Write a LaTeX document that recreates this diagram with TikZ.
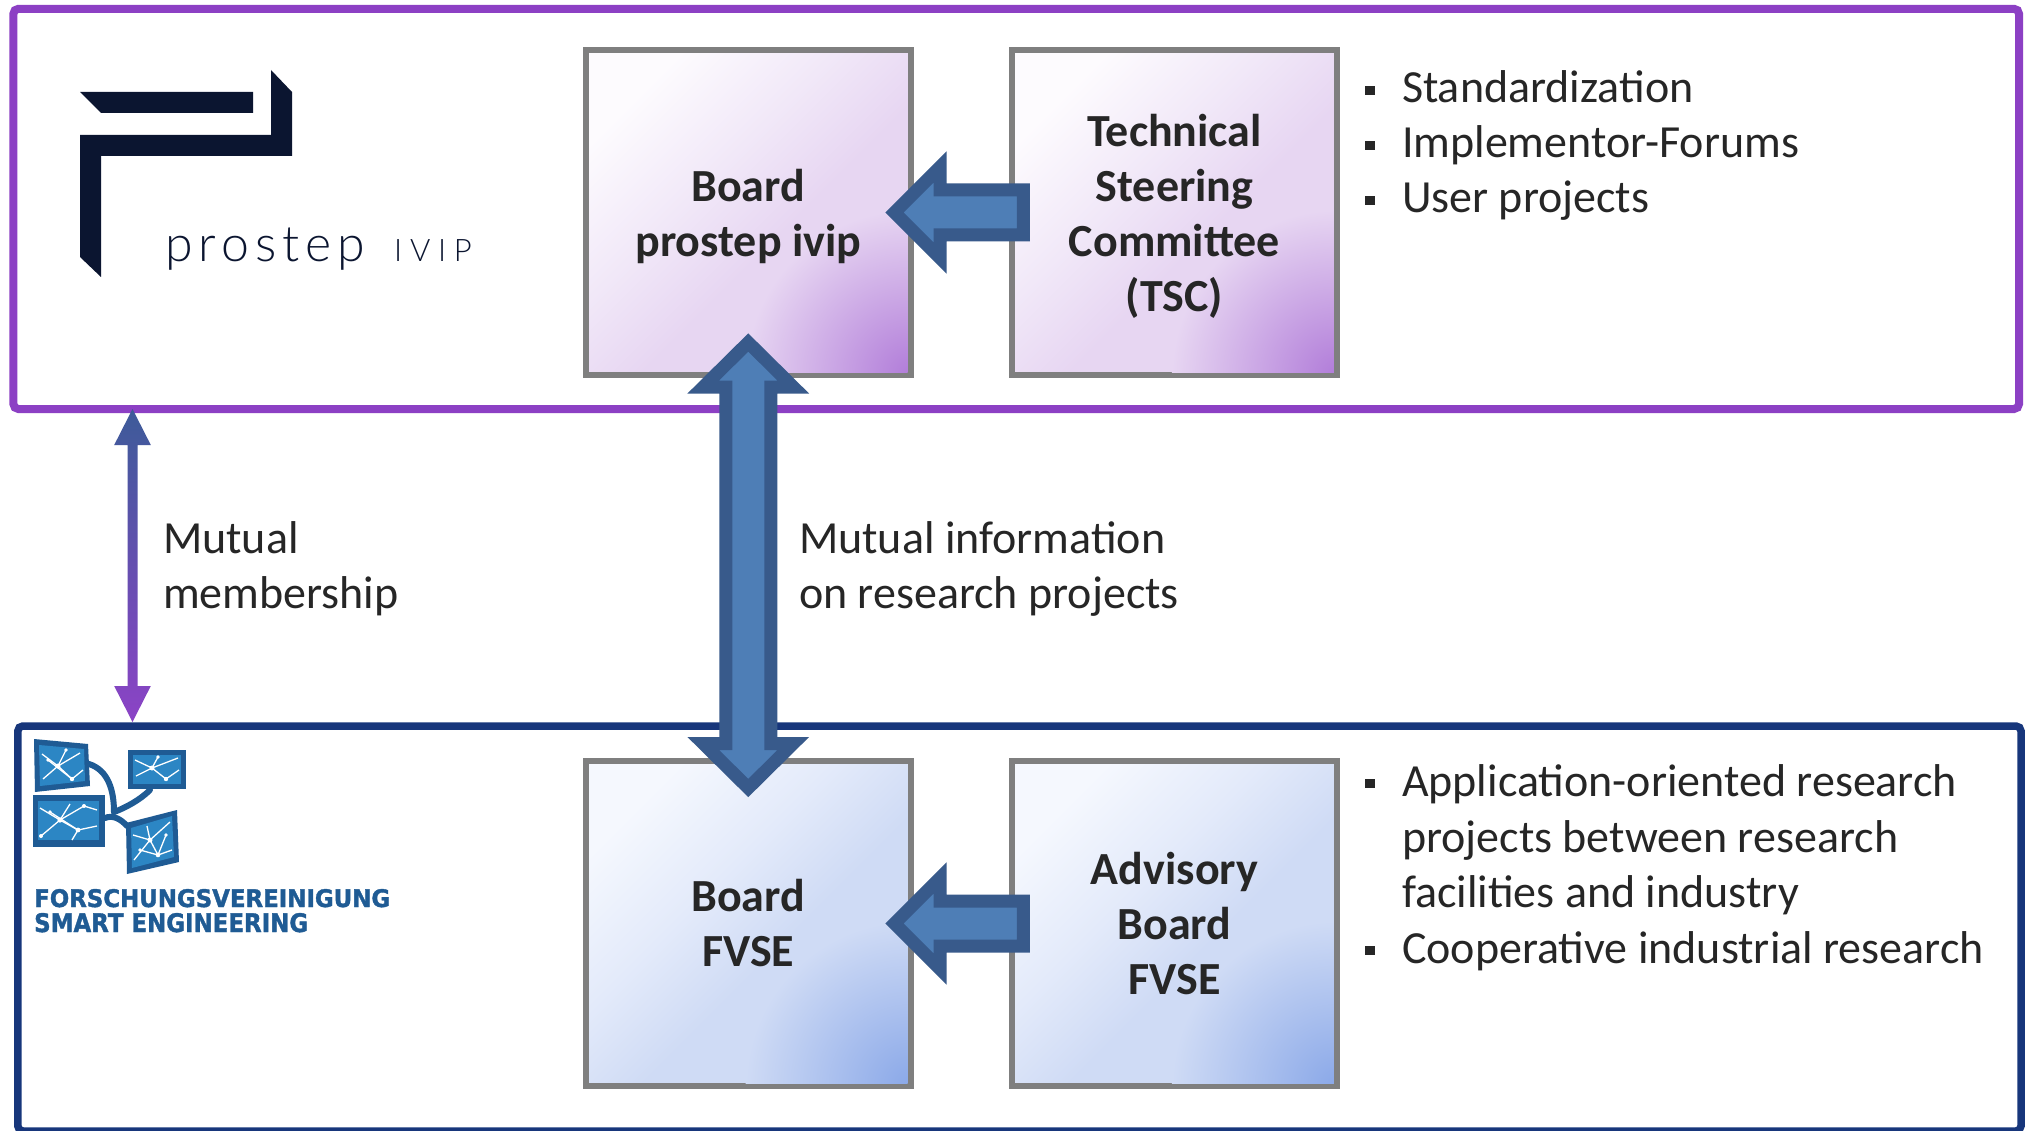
\documentclass[tikz,border=0pt]{standalone}
\usepackage{fontspec}
\setmainfont{Carlito}
\newfontfamily\logofont{Lato Light}
\newfontfamily\fvsefont[FakeBold=1.5]{DejaVu Sans}
\usetikzlibrary{calc}

\definecolor{framepurple}{HTML}{8C40C4}
\definecolor{framenavy}{HTML}{17367B}
\definecolor{boxgray}{HTML}{7F7F7F}
\definecolor{arrowfill}{HTML}{4E7EB6}
\definecolor{arrowline}{HTML}{385A8B}
\definecolor{txt}{HTML}{262626}
\definecolor{logonavy}{HTML}{0B1530}
\definecolor{fvsedark}{HTML}{1F5B94}
\definecolor{fvsemid}{HTML}{2C86C4}
\definecolor{mmtopc}{HTML}{3D5B99}
\definecolor{mmbotc}{HTML}{8C43C6}

\definecolor{pp0}{HTML}{FDFBFE}
\definecolor{pp1}{HTML}{F1E8F8}
\definecolor{ppL}{HTML}{E7D6F2}
\definecolor{ppC}{HTML}{B17CD9}
\definecolor{bb0}{HTML}{F5F8FE}
\definecolor{bb1}{HTML}{E3EAFA}
\definecolor{bbL}{HTML}{CFDBF5}
\definecolor{bbC}{HTML}{8AA8E8}

\pgfdeclarehorizontalshading{purpleshade}{100bp}{color(0bp)=(pp0); color(25bp)=(pp0); color(42bp)=(pp1); color(56bp)=(ppL); color(100bp)=(ppL)}
\pgfdeclarehorizontalshading{blueshade}{100bp}{color(0bp)=(bb0); color(25bp)=(bb0); color(42bp)=(bb1); color(56bp)=(bbL); color(100bp)=(bbL)}

\newcommand{\sqb}{\makebox[37pt][l]{\rule[8pt]{10pt}{9pt}}}
\newcommand{\nodepth}[1]{\raisebox{0pt}[\height][0pt]{#1}}

\tikzset{
  orgbox/.style={draw=boxgray, line width=6pt, minimum width=324.5pt, minimum height=325pt,
    inner sep=0pt, outer sep=0pt},
  ppbox/.style={orgbox, shade, shading=purpleshade, shading angle=-45},
  blbox/.style={orgbox, shade, shading=blueshade, shading angle=-45},
  boxtext/.style={inner sep=0pt, outer sep=0pt, font=\bfseries\fontsize{46}{55}\selectfont, text=txt, align=center},
  barrow/.style={fill=arrowfill, draw=arrowline, line width=13pt, line join=miter},
  bodytext/.style={anchor=base west, inner sep=0pt, outer sep=0pt, text=txt, font=\fontsize{46}{55}\selectfont},
  panelframe/.style={fill=fvsedark, draw=none},
  panelin/.style={fill=fvsemid, draw=none},
  net/.style={draw=white, line width=1.3pt},
  netdot/.style={fill=white, draw=none},
  fvselink/.style={draw=fvsedark, line width=6pt, line cap=round},
}

\begin{document}
\begin{tikzpicture}[x=1pt,y=-1pt]
\useasboundingbox (0,0) rectangle (2033,1131);
\fill[white] (0,0) rectangle (2033,1131);

% frames
\node[draw=framepurple, line width=8pt, rounded corners=5pt, minimum width=2005.6pt, minimum height=400.2pt, inner sep=0pt, outer sep=0pt] (topframe) at (1016.2,208.9) {};
\node[draw=framenavy, line width=7.5pt, rounded corners=5pt, minimum width=2003.2pt, minimum height=405pt, inner sep=0pt, outer sep=0pt] (botframe) at (1019.4,928.5) {};

% prostep logo
\fill[logonavy] (80,92) -- (253,92) -- (253,113) -- (101,113) -- cycle;
\fill[logonavy] (271,70) -- (292,92) -- (292,156) -- (101,156) -- (101,277) -- (80,257) -- (80,135) -- (271,135) -- cycle;
\node[anchor=base west, inner sep=0pt, text=logonavy] (pslogo) at (165,262) {\logofont\fontsize{50}{50}\selectfont\addfontfeature{LetterSpace=12}prostep};
\node[anchor=base west, inner sep=0pt, text=logonavy] (ivlogo) at (394,262) {\logofont\fontsize{31}{31}\selectfont\addfontfeature{LetterSpace=25}IVIP};

% FVSE logo
\fill[panelframe] (34,739) -- (88,744) -- (90,786) -- (35,792) -- cycle;
\fill[panelin] (39,745) -- (84,749) -- (85,781) -- (40,786) -- cycle;
\draw[net] (42,754) -- (58,766) -- (80,753);
\draw[net] (58,766) -- (72,779) -- (83,770);
\draw[net] (43,779) -- (58,766) -- (66,750);
\draw[net] (48,760) -- (72,779);
\fill[netdot] (58,766) circle (2.5) (72,779) circle (2.2) (66,750) circle (1.8) (48,760) circle (1.8);

\fill[panelframe] (128,750) rectangle (186,789);
\fill[panelin] (133,755) rectangle (181,784);
\draw[net] (135,760) -- (152,768) -- (178,758);
\draw[net] (152,768) -- (166,779) -- (179,770);
\draw[net] (136,776) -- (152,768) -- (158,757);
\fill[netdot] (152,768) circle (2.5) (166,779) circle (2.2) (158,757) circle (1.8);

\fill[panelframe] (33,795) rectangle (105,847);
\fill[panelin] (38,801) rectangle (99,840);
\draw[net] (40,808) -- (60,820) -- (84,806) -- (97,810);
\draw[net] (60,820) -- (78,830) -- (97,826);
\draw[net] (41,836) -- (60,820) -- (70,804);
\draw[net] (50,812) -- (78,830) -- (72,840);
\fill[netdot] (60,820) circle (2.6) (78,830) circle (2.4) (84,806) circle (2) (41,836) circle (2) (50,812) circle (1.8);

\fill[panelframe] (126,823) -- (177,810) -- (179,862) -- (127,874) -- cycle;
\fill[panelin] (131,828) -- (172,816) -- (174,857) -- (132,868) -- cycle;
\draw[net] (133,835) -- (150,840) -- (170,822);
\draw[net] (150,840) -- (158,855) -- (172,850);
\draw[net] (134,860) -- (150,840) -- (147,826);
\draw[net] (140,850) -- (158,855) -- (166,835);
\fill[netdot] (150,840) circle (2.5) (158,855) circle (2.3) (166,835) circle (1.8) (140,850) circle (1.8);

\draw[fvselink] (89,764) .. controls (108,770) and (114,790) .. (114,812);
\draw[fvselink] (150,790) .. controls (140,800) and (125,808) .. (114,812);
\draw[fvselink] (105,818) .. controls (112,815) and (120,818) .. (127,826);

\node[anchor=base west, inner sep=0pt, text=fvsedark] (fvsel1) at (34,907) {\resizebox{356pt}{18pt}{\fvsefont\bfseries FORSCHUNGSVEREINIGUNG}};
\node[anchor=base west, inner sep=0pt, text=fvsedark] (fvsel2) at (34,932) {\resizebox{274pt}{19pt}{\fvsefont\bfseries SMART ENGINEERING}};

% boxes
\node[ppbox] (bp) at (748.25,212.5) {};
\node[ppbox] (tsc) at (1174.5,212.5) {};
\node[blbox] (bf) at (748.25,923.5) {};
\node[blbox] (adv) at (1174.5,923.5) {};

% corner glow of the boxes
\begin{scope}
  \clip ($(bp.south west)+(3,-3)$) rectangle ($(bp.north east)+(-3,3)$);
  \shade[inner color=ppC, outer color=ppL] (bp.south east) circle (165);
\end{scope}
\begin{scope}
  \clip ($(tsc.south west)+(3,-3)$) rectangle ($(tsc.north east)+(-3,3)$);
  \shade[inner color=ppC, outer color=ppL] (tsc.south east) circle (165);
\end{scope}
\begin{scope}
  \clip ($(bf.south west)+(3,-3)$) rectangle ($(bf.north east)+(-3,3)$);
  \shade[inner color=bbC, outer color=bbL] (bf.south east) circle (165);
\end{scope}
\begin{scope}
  \clip ($(adv.south west)+(3,-3)$) rectangle ($(adv.north east)+(-3,3)$);
  \shade[inner color=bbC, outer color=bbL] (adv.south east) circle (165);
\end{scope}

\node[boxtext] (bpt) at (bp.center) {Board\\\nodepth{prostep ivip}};
\node[boxtext] (tsct) at (tsc.center) {Technical\\Steering\\Committee\\\nodepth{(TSC)}};
\node[boxtext] (bft) at (bf.center) {Board\\FVSE};
\node[boxtext] (advt) at (adv.center) {Advisory\\Board\\FVSE};

% block arrows
\draw[barrow] ($(bp.east)+(-16,0)$) coordinate (t1) -- ++(45.5,-45.5) -- ++(0,23) -- ($(tsc.west)+(11,-22.5)$) -- ($(tsc.west)+(11,22.5)$) -- ($(t1)+(45.5,22.5)$) -- ($(t1)+(45.5,45.5)$) -- cycle;
\draw[barrow] ($(bf.east)+(-16,0)$) coordinate (t2) -- ++(45.5,-45.5) -- ++(0,23) -- ($(adv.west)+(11,-22.5)$) -- ($(adv.west)+(11,22.5)$) -- ($(t2)+(45.5,22.5)$) -- ($(t2)+(45.5,45.5)$) -- cycle;
\draw[barrow] ($(bp.south)+(0,-32.5)$) coordinate (vt) -- ++(45,44.5) -- ++(-22.5,0) -- ($(bf.north)+(22.5,-17.5)$) -- ++(22.5,0) -- ($(bf.north)+(0,27)$) -- ++(-45,-44.5) -- ++(22.5,0) -- ($(vt)+(-22.5,44.5)$) -- ++(-22.5,0) -- cycle;

% mutual membership arrow
\coordinate (mmtop) at (132.5,409);
\coordinate (mmbot) at (132.5,722);
\shade[top color=mmtopc, bottom color=mmbotc] (mmtop) -- ++(18.3,36) -- ++(-13.3,0) -- ($(mmbot)+(5,-36)$) -- ++(13.3,0) -- (mmbot) -- ++(-18.3,-36) -- ++(13.3,0) -- ($(mmtop)+(-5,36)$) -- ++(-13.3,0) -- cycle;

% labels
\node[bodytext] (mm1) at (163,553) {Mutual};
\node[bodytext] (mm2) at (163,608) {membership};
\node[bodytext] (mi1) at (799,553) {Mutual information};
\node[bodytext] (mi2) at (799,608) {on research projects};

% bullets top
\node[bodytext] (tb1) at (1365,103) {\sqb Standardization};
\node[bodytext] (tb2) at (1365,158) {\sqb Implementor-Forums};
\node[bodytext] (tb3) at (1365,213) {\sqb User projects};

% bullets bottom
\node[bodytext] (bb1) at (1365,796) {\sqb Application-oriented research};
\node[bodytext] (bb2) at (1402,852) {projects between research};
\node[bodytext] (bb3) at (1402,907) {facilities and industry};
\node[bodytext] (bb4) at (1365,963) {\sqb Cooperative industrial research};
\end{tikzpicture}
\end{document}
